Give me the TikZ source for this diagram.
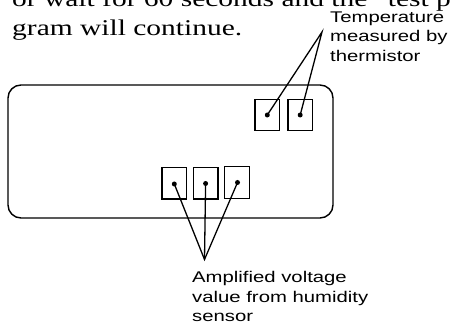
\documentclass[tikz,border=0pt]{standalone}
\usepackage{fontspec}
\setmainfont{Liberation Serif}
\newfontfamily\labelfont{Liberation Sans}
\tikzset{
  panel/.style={draw, line width=1.4pt, rounded corners=13pt},
  pinbox/.style={draw, line width=1.3pt, minimum width=24.5pt, minimum height=31.5pt, inner sep=0pt},
  pindot/.style={circle, fill, inner sep=0pt, minimum size=5pt},
  lead/.style={line width=1.3pt},
  serifline/.style={anchor=base west, inner sep=0pt, font=\fontsize{22.5}{27}\selectfont},
  lbl/.style={anchor=base west, inner sep=0pt, font=\labelfont\fontsize{15.5}{19.5}\selectfont}
}
\newcommand{\wide}[1]{\scalebox{1.31}[1]{#1}}
\begin{document}
\begin{tikzpicture}[x=1pt,y=-1pt]
\useasboundingbox (0,0) rectangle (453,328);
\clip (0,0) rectangle (453,328);
% body text (cut off at the top edge, as in the reference)
\node[serifline] (t1) at (12,7) {\wide{or wait for 60 seconds and the “test p}};
\node[serifline] (t2) at (12,36) {\wide{gram will continue.}};
% panel
\draw[panel] (8,85) rectangle (333,218);
% temperature boxes
\node[pinbox] (b1) at (267.3,115) {};
\node[pinbox] (b2) at (300.2,115) {};
\node[pindot] (d1) at (267.3,115) {};
\node[pindot] (d2) at (300.2,115) {};
% humidity boxes
\node[pinbox] (b3) at (174.3,183.3) {};
\node[pinbox] (b4) at (205.6,183.3) {};
\node[pinbox] (b5) at (237,182.5) {};
\node[pindot] (d3) at (174.3,184) {};
\node[pindot] (d4) at (205.6,183.5) {};
\node[pindot] (d5) at (237.5,182.5) {};
% convergence points
\coordinate (ct) at (322,32);
\coordinate (cb) at (204.5,259.5);
\draw[lead] (d1.center) -- (ct) -- (d2.center);
\draw[lead] (d3.center) -- (cb) -- (d5.center);
\draw[lead] (d4.center) -- (cb);
% labels
\node[lbl] (l1) at (330,22.7) {\wide{Temperature}};
\node[lbl] (l2) at (330,42) {\wide{measured by}};
\node[lbl] (l3) at (330,61.5) {\wide{thermistor}};
\node[lbl] (l4) at (192,283) {\wide{Amplified voltage}};
\node[lbl] (l5) at (192,302.5) {\wide{value from humidity}};
\node[lbl] (l6) at (192,322) {\wide{sensor}};
\end{tikzpicture}
\end{document}
